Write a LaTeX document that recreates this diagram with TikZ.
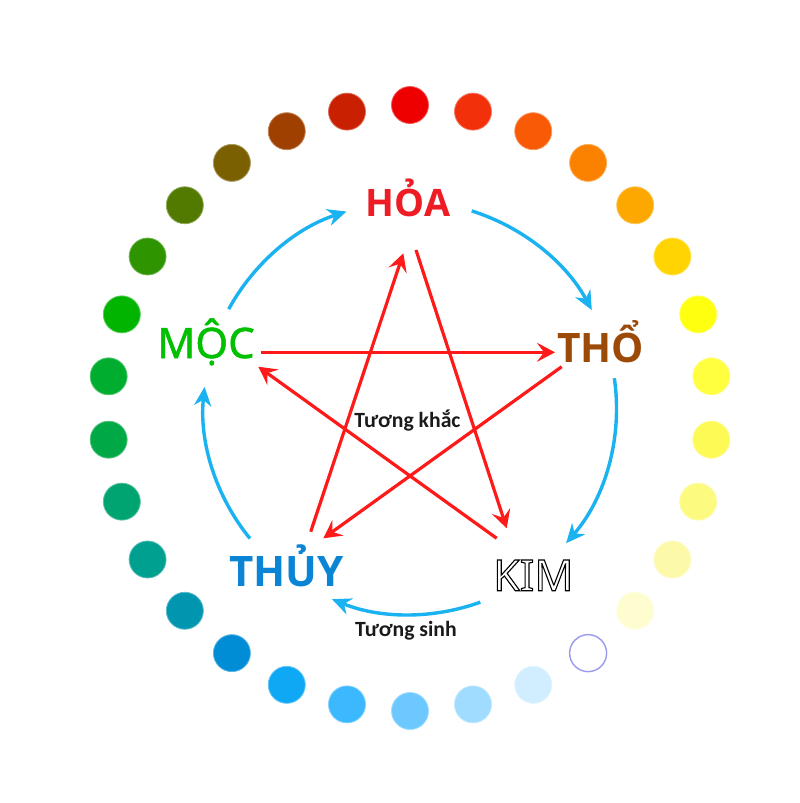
\documentclass[tikz,border=0pt]{standalone}
\usepackage{fontspec}
\usetikzlibrary{arrows.meta,calc}
\newfontfamily\lblfont{Noto Sans}
\newfontfamily\medlbl[FakeBold=1.2]{Noto Sans}
\newfontfamily\boldlbl{Open Sans}
\newfontfamily\smallfont{Carlito}
\newcommand{\outlinetext}[1]{\special{pdf:literal direct 1 Tr 1.1 w}#1\special{pdf:literal direct 0 Tr 0 w}}
\definecolor{d0}{HTML}{EE0000}
\definecolor{d1}{HTML}{F2300A}
\definecolor{d2}{HTML}{F85A05}
\definecolor{d3}{HTML}{FA8200}
\definecolor{d4}{HTML}{FCA800}
\definecolor{d5}{HTML}{FFD400}
\definecolor{d6}{HTML}{FFFF10}
\definecolor{d7}{HTML}{FFFF40}
\definecolor{d8}{HTML}{FDFA55}
\definecolor{d9}{HTML}{FDFA80}
\definecolor{d10}{HTML}{FCFAA8}
\definecolor{d11}{HTML}{FEFDD0}
\definecolor{d12}{HTML}{FFFFFF}
\definecolor{d13}{HTML}{D0EEFF}
\definecolor{d14}{HTML}{A0DCFF}
\definecolor{d15}{HTML}{6CC8FF}
\definecolor{d16}{HTML}{3CB8FF}
\definecolor{d17}{HTML}{0FA8F5}
\definecolor{d18}{HTML}{008DD5}
\definecolor{d19}{HTML}{0096B0}
\definecolor{d20}{HTML}{00A090}
\definecolor{d21}{HTML}{00A470}
\definecolor{d22}{HTML}{00A846}
\definecolor{d23}{HTML}{00AD2E}
\definecolor{d24}{HTML}{00B400}
\definecolor{d25}{HTML}{2E9400}
\definecolor{d26}{HTML}{527A00}
\definecolor{d27}{HTML}{7A6000}
\definecolor{d28}{HTML}{A04000}
\definecolor{d29}{HTML}{C82000}
\definecolor{hollow}{HTML}{9A9AEE}
\definecolor{hoared}{HTML}{EE1C25}
\definecolor{mocgreen}{HTML}{00C000}
\definecolor{thobrown}{HTML}{9C4A08}
\definecolor{thuyblue}{HTML}{0A85D5}
\definecolor{khacred}{HTML}{FF1A1A}
\definecolor{sinhblue}{HTML}{1AB2F0}
\definecolor{txtdark}{HTML}{1A1A1A}
\begin{document}
\begin{tikzpicture}[x=1pt,y=1pt,
  dot/.style={circle, minimum size=37pt, inner sep=0pt},
  khac/.style={draw=khacred, line width=3.2pt, -{Stealth[length=18pt,width=19pt,inset=7pt]}},
  sinh/.style={draw=sinhblue, line width=3.4pt, -{Stealth[length=19pt,width=17pt,inset=6pt]}},
  elem/.style={anchor=base, inner sep=0pt},
  note/.style={anchor=base, inner sep=0pt, text=txtdark, font=\smallfont\bfseries\fontsize{21.7}{24}\selectfont}
  ]
\fill[white] (0,0) rectangle (800,-803);
\useasboundingbox (0,0) rectangle (800,-803);
\coordinate (O) at (410,-408);
% ring of dots
\foreach \k in {0,...,29} {
  \ifnum\k=12
    \node[dot, fill=white, draw=hollow, line width=1.4pt] (dot\k) at ($(O)+({90-12*\k}:303)$) {};
  \else
    \node[dot, fill=d\k, draw=d\k!65!white, line width=0.8pt] (dot\k) at ($(O)+({90-12*\k}:303)$) {};
  \fi
}
% element labels
\node[elem, text=hoared, font=\boldlbl\bfseries\fontsize{37.8}{40}\selectfont] (hoa) at (408,-216.7) {HỎA};
\node[elem, text=mocgreen, font=\medlbl\fontsize{42}{44}\selectfont] (moc) at (206,-358) {MỘC};
\node[elem, text=thobrown, font=\boldlbl\bfseries\fontsize{40.6}{43}\selectfont] (tho) at (600.5,-362) {THỔ};
\node[elem, text=thuyblue, font=\boldlbl\bfseries\fontsize{42}{44}\selectfont] (thuy) at (286.7,-586.7) {THỦY};
\node[elem, text=black, font=\lblfont\fontsize{43}{45}\selectfont] (kim) at (533.3,-590.7) {\outlinetext{KIM}};
\node[note] (khac) at (407.5,-427.5) {Tương khắc};
\node[note] (sinhlbl) at (406,-636) {Tương sinh};
% tuong khac (red star)
\coordinate (k1a) at (261,-352.3);   \coordinate (k1b) at (555,-352.3);
\coordinate (k2a) at (416,-250);     \coordinate (k2b) at (506.7,-528.3);
\coordinate (k3a) at (561.7,-366.7); \coordinate (k3b) at (323.3,-538.3);
\coordinate (k4a) at (496.7,-538.3); \coordinate (k4b) at (258.3,-366.7);
\coordinate (k5a) at (310.7,-531.7); \coordinate (k5b) at (403.3,-253.3);
\draw[khac] (k1a) -- (k1b);
\draw[khac] (k2a) -- (k2b);
\draw[khac] (k3a) -- (k3b);
\draw[khac] (k4a) -- (k4b);
\draw[khac] (k5a) -- (k5b);
% tuong sinh (blue arcs)
\coordinate (s1a) at ($(O)+(151.4:206.5)$);
\coordinate (s2a) at ($(O)+(72.6:206.5)$);
\coordinate (s3a) at ($(O)+(8.3:206.5)$);
\coordinate (s4a) at ($(O)+(-70.1:206.5)$);
\coordinate (s5a) at ($(O)+(-140.8:206.5)$);
\draw[sinh] (s1a) arc[start angle=151.4, end angle=107.9, radius=206.5];
\draw[sinh] (s2a) arc[start angle=72.6, end angle=28.3, radius=206.5];
\draw[sinh] (s3a) arc[start angle=8.3, end angle=-40.9, radius=206.5];
\draw[sinh] (s4a) arc[start angle=-70.1, end angle=-112.2, radius=206.5];
\draw[sinh] (s5a) arc[start angle=-140.8, end angle=-185.9, radius=206.5];
\end{tikzpicture}
\end{document}
